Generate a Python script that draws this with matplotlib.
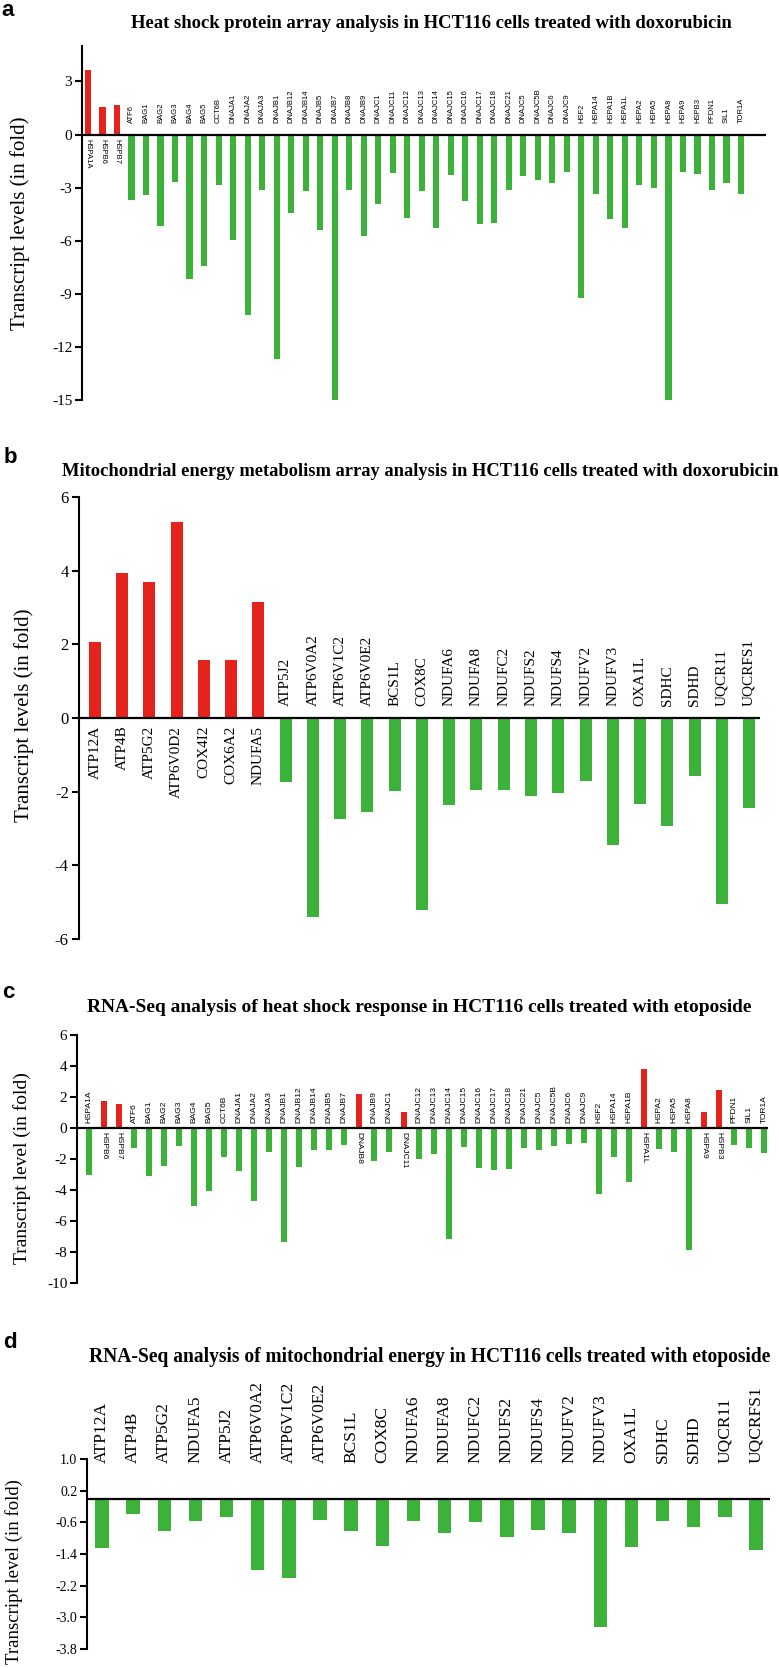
import matplotlib
matplotlib.use("Agg")
import matplotlib.pyplot as plt

plt.rcParams["axes.unicode_minus"] = False

W, H = 779, 1668
RED = "#e5221b"
GREEN = "#3cb23a"
SERIF = "Liberation Serif"
SANS = "Liberation Sans"

# heat shock genes (panels a and c)
hsp_genes = ["HSPA1A", "HSPB6", "HSPB7", "ATF6", "BAG1", "BAG2", "BAG3", "BAG4", "BAG5",
             "CCT6B", "DNAJA1", "DNAJA2", "DNAJA3", "DNAJB1", "DNAJB12", "DNAJB14", "DNAJB5",
             "DNAJB7", "DNAJB8", "DNAJB9", "DNAJC1", "DNAJC11", "DNAJC12", "DNAJC13",
             "DNAJC14", "DNAJC15", "DNAJC16", "DNAJC17", "DNAJC18", "DNAJC21", "DNAJC5",
             "DNAJC5B", "DNAJC6", "DNAJC9", "HSF2", "HSPA14", "HSPA1B", "HSPA1L", "HSPA2",
             "HSPA5", "HSPA8", "HSPA9", "HSPB3", "PFDN1", "SIL1", "TOR1A"]
dox_hsp = [3.65, 1.53, 1.64, -3.68, -3.43, -5.16, -2.68, -8.14, -7.43,
           -2.83, -5.96, -10.18, -3.11, -12.68, -4.43, -3.19, -5.4,
           -15.0, -3.15, -5.74, -3.94, -2.19, -4.74, -3.21,
           -5.31, -2.26, -3.75, -5.03, -4.99, -3.16, -2.37,
           -2.56, -2.76, -2.13, -9.24, -3.34, -4.8, -5.31, -2.86,
           -3.03, -15.0, -2.13, -2.21, -3.16, -2.75, -3.38]
eto_hsp = [-3.0, 1.72, 1.55, -1.29, -3.07, -2.42, -1.14, -5.0, -4.08,
           -1.87, -2.79, -4.68, -1.57, -7.36, -2.53, -1.39, -1.44,
           -1.07, 2.19, -2.15, -1.57, 1.05, -2.0, -1.7,
           -7.19, -1.2, -2.58, -2.68, -2.64, -1.31, -1.45,
           -1.18, -1.05, -0.99, -4.29, -1.84, -3.5, 3.83, -1.33,
           -1.58, -7.9, 1.03, 2.43, -1.1, -1.26, -1.63]

# mitochondrial genes (panel b)
mito_genes_b = ["ATP12A", "ATP4B", "ATP5G2", "ATP6V0D2", "COX4I2", "COX6A2", "NDUFA5",
                "ATP5J2", "ATP6V0A2", "ATP6V1C2", "ATP6V0E2", "BCS1L", "COX8C", "NDUFA6",
                "NDUFA8", "NDUFC2", "NDUFS2", "NDUFS4", "NDUFV2", "NDUFV3", "OXA1L", "SDHC",
                "SDHD", "UQCR11", "UQCRFS1"]
dox_mito = [2.07, 3.93, 3.68, 5.33, 1.57, 1.57, 3.14,
            -1.73, -5.41, -2.73, -2.56, -1.98, -5.22, -2.36,
            -1.95, -1.95, -2.11, -2.04, -1.71, -3.45, -2.33, -2.93,
            -1.58, -5.05, -2.44]

# mitochondrial genes (panel d)
mito_genes_d = ["ATP12A", "ATP4B", "ATP5G2", "NDUFA5", "ATP5J2", "ATP6V0A2", "ATP6V1C2",
                "ATP6V0E2", "BCS1L", "COX8C", "NDUFA6", "NDUFA8", "NDUFC2", "NDUFS2",
                "NDUFS4", "NDUFV2", "NDUFV3", "OXA1L", "SDHC", "SDHD", "UQCR11", "UQCRFS1"]
eto_mito = [-1.26, -0.4, -0.81, -0.56, -0.46, -1.8, -2.0,
            -0.54, -0.82, -1.21, -0.57, -0.86, -0.59, -0.97,
            -0.79, -0.86, -3.25, -1.22, -0.57, -0.73, -0.47, -1.3]

titles = [
    "Heat shock protein array analysis in HCT116 cells treated with doxorubicin",
    "Mitochondrial energy metabolism array analysis in HCT116 cells treated with doxorubicin",
    "RNA-Seq analysis of heat shock response in HCT116 cells treated with etoposide",
    "RNA-Seq analysis of mitochondrial energy in HCT116 cells treated with etoposide",
]


def panel_axes(fig, left, top, right, bottom):
    return fig.add_axes([left / W, 1 - bottom / H, (right - left) / W, (bottom - top) / H])


def style(ax, xlim, ylim, yticks, fmt, ticksize):
    ax.set_xlim(*xlim)
    ax.set_ylim(*ylim)
    for s in ("top", "right", "bottom"):
        ax.spines[s].set_visible(False)
    ax.spines["left"].set_linewidth(1.5)
    ax.set_xticks([])
    ax.set_yticks(yticks)
    ax.set_yticklabels([fmt.format(t) for t in yticks], fontsize=ticksize, family=SERIF)
    ax.tick_params(axis="y", direction="out", length=5, width=1.5, pad=2)
    ax.axhline(0, color="black", lw=1.6, zorder=3)
    ax.patch.set_visible(False)


def bars(ax, values, width):
    colors = [RED if v > 0 else GREEN for v in values]
    ax.bar(range(len(values)), values, width=width, color=colors, zorder=2)


def gene_labels(ax, genes, values, size, family, up_gap, down_gap, down_rot):
    for i, (g, v) in enumerate(zip(genes, values)):
        if v < 0:
            ax.annotate(g, (i, 0), xytext=(0, up_gap), textcoords="offset points",
                        rotation=90, ha="center", va="bottom", fontsize=size, family=family)
        else:
            ax.annotate(g, (i, 0), xytext=(0, -down_gap), textcoords="offset points",
                        rotation=down_rot, ha="center", va="top", fontsize=size, family=family)


def fig_text(fig, x, y, s, **kw):
    return fig.text(x / W, 1 - y / H, s, **kw)


def title(fig, x0, x1, y, s):
    # bold serif title stretched to the span it takes in the original
    t = fig_text(fig, x0, y, s, fontsize=12, fontweight="bold", family=SERIF, ha="left", va="center")
    w = t.get_window_extent(fig.canvas.get_renderer()).width
    t.set_fontsize(12 * (x1 - x0) / w)


fig = plt.figure(figsize=(W / 100, H / 100), dpi=100)

# a
ax = panel_axes(fig, 82, 46, 766, 400)
bars(ax, dox_hsp, 0.42)
style(ax, (-0.41, 46.72), (-15, 5), [-15, -12, -9, -6, -3, 0, 3], "{:d}", 11)
gene_labels(ax, hsp_genes, dox_hsp, 5.5, SANS, 8, 3, 270)
fig_text(fig, 8, 10, "a", fontsize=16, fontweight="bold", family=SANS, ha="center", va="center")
title(fig, 131, 727, 23, titles[0])
fig_text(fig, 20, 223, "Transcript levels (in fold)", fontsize=15, family=SERIF,
         rotation=90, ha="center", va="center")

# b
ax = panel_axes(fig, 78.5, 497, 760, 939)
bars(ax, dox_mito, 0.44)
style(ax, (-0.6, 24.4), (-6, 6), [-6, -4, -2, 0, 2, 4, 6], "{:d}", 12)
gene_labels(ax, mito_genes_b, dox_mito, 11, SERIF, 8.5, 5.5, 90)
fig_text(fig, 10, 457, "b", fontsize=16, fontweight="bold", family=SANS, ha="center", va="center")
title(fig, 62, 772, 472, titles[1])
fig_text(fig, 24, 715, "Transcript levels (in fold)", fontsize=15, family=SERIF,
         rotation=90, ha="center", va="center")

# c
ax = panel_axes(fig, 77, 1035, 768, 1283)
bars(ax, eto_hsp, 0.4)
style(ax, (-0.8, 45.27), (-10, 6), [-10, -8, -6, -4, -2, 0, 2, 4, 6], "{:d}", 11)
gene_labels(ax, hsp_genes, eto_hsp, 6, SANS, 3.5, 3, 270)
fig_text(fig, 8, 993, "c", fontsize=16, fontweight="bold", family=SANS, ha="center", va="center")
title(fig, 87, 748, 1008, titles[2])
fig_text(fig, 22, 1168, "Transcript level (in fold)", fontsize=14, family=SERIF,
         rotation=90, ha="center", va="center")

# d
ax = panel_axes(fig, 87, 1459, 770, 1649)
bars(ax, eto_mito, 0.43)
d_ticks = [1.0, 0.2, -0.6, -1.4, -2.2, -3.0, -3.8]
style(ax, (-0.48, 21.45), (-3.8, 1.0), d_ticks, "{:.1f}", 10)
for i, g in enumerate(mito_genes_d):
    ax.text(i, 0.9, g, rotation=90, ha="center", va="bottom", fontsize=12.5, family=SERIF)
fig_text(fig, 10, 1343, "d", fontsize=16, fontweight="bold", family=SANS, ha="center", va="center")
title(fig, 89, 769, 1357, titles[3])
fig_text(fig, 14, 1572, "Transcript level (in fold)", fontsize=13.5, family=SERIF,
         rotation=90, ha="center", va="center")

fig.savefig("out.png", dpi=100)
